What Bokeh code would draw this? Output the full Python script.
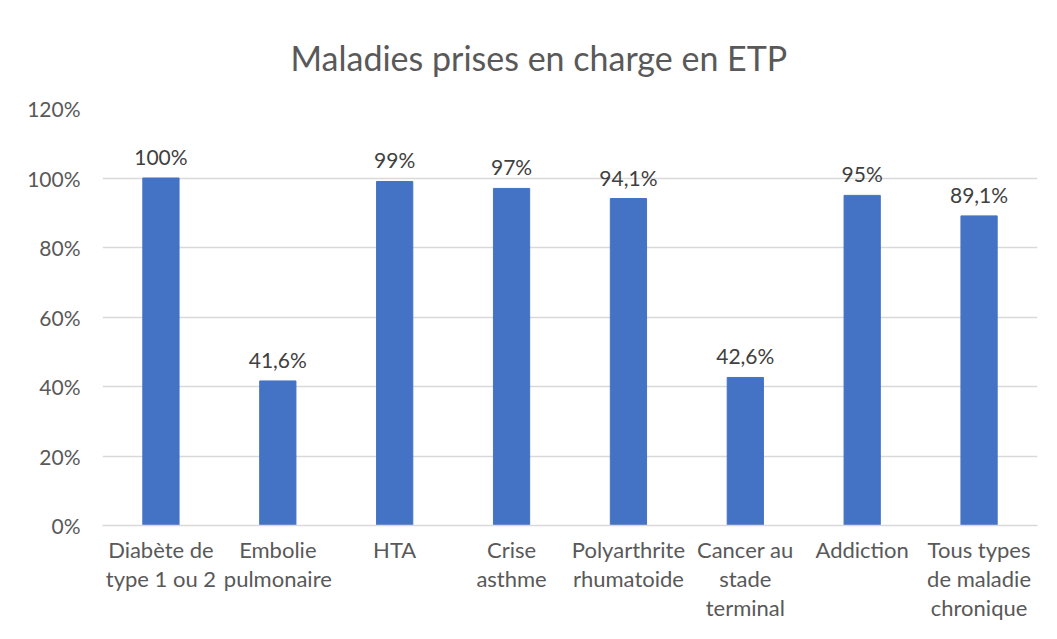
from bokeh.plotting import figure
from bokeh.models import ColumnDataSource, FixedTicker
from bokeh.embed import file_html
from bokeh.resources import INLINE
from bokeh.core.properties import value

categories = ["Diabète de\ntype 1 ou 2", "Embolie\npulmonaire", "HTA", "Crise\nasthme",
              "Polyarthrite\nrhumatoide", "Cancer au\nstade\nterminal", "Addiction",
              "Tous types\nde maladie\nchronique"]
values = [100, 41.6, 99, 97, 94.1, 42.6, 95, 89.1]
value_labels = ["100%", "41,6%", "99%", "97%", "94,1%", "42,6%", "95%", "89,1%"]
y_ticks = [0, 20, 40, 60, 80, 100, 120]
y_tick_labels = ["0%", "20%", "40%", "60%", "80%", "100%", "120%"]

FONT = "Lato"
src = ColumnDataSource(dict(cat=categories, val=values, lab=value_labels))

p = figure(x_range=categories, y_range=(0, 120), width=1041, height=623,
           output_backend="svg", toolbar_location=None,
           min_border_left=102, min_border_right=4, min_border_top=108, min_border_bottom=97)

p.vbar(x="cat", top="val", width=0.31, color="#4472C4", source=src)
p.text(x="cat", y="val", text="lab", text_align="center", text_baseline="bottom",
       y_offset=-9, text_font=value(FONT), text_font_size="21px", text_color="#404040",
       source=src)

p.title.text = "Maladies prises en charge en ETP"
p.title.align = "left"
p.title.text_font = FONT
p.title.text_font_size = "34px"
p.title.text_font_style = "normal"
p.title.text_color = "#595959"
p.title.offset = 188
p.title.standoff = 62

p.outline_line_color = None
p.xgrid.visible = False
p.ygrid.ticker = FixedTicker(ticks=y_ticks)
p.ygrid.grid_line_color = "#d9d9d9"
p.ygrid.grid_line_width = 1.5

p.yaxis.ticker = FixedTicker(ticks=y_ticks)
p.yaxis.major_label_overrides = {t: l for t, l in zip(y_ticks, y_tick_labels)}
p.yaxis.axis_line_color = None
p.yaxis.major_tick_line_color = None
p.yaxis.minor_tick_line_color = None
p.yaxis.major_label_standoff = 16

p.xaxis.axis_line_color = "#d9d9d9"
p.xaxis.axis_line_width = 1.5
p.xaxis.major_tick_line_color = None
p.xaxis.major_label_standoff = 4
p.xaxis.major_label_text_line_height = 1.08

for ax in (p.xaxis, p.yaxis):
    ax.major_label_text_font = FONT
    ax.major_label_text_color = "#595959"
p.xaxis.major_label_text_font_size = "22px"
p.yaxis.major_label_text_font_size = "21px"

open("out.html", "w").write(file_html(p, INLINE))
